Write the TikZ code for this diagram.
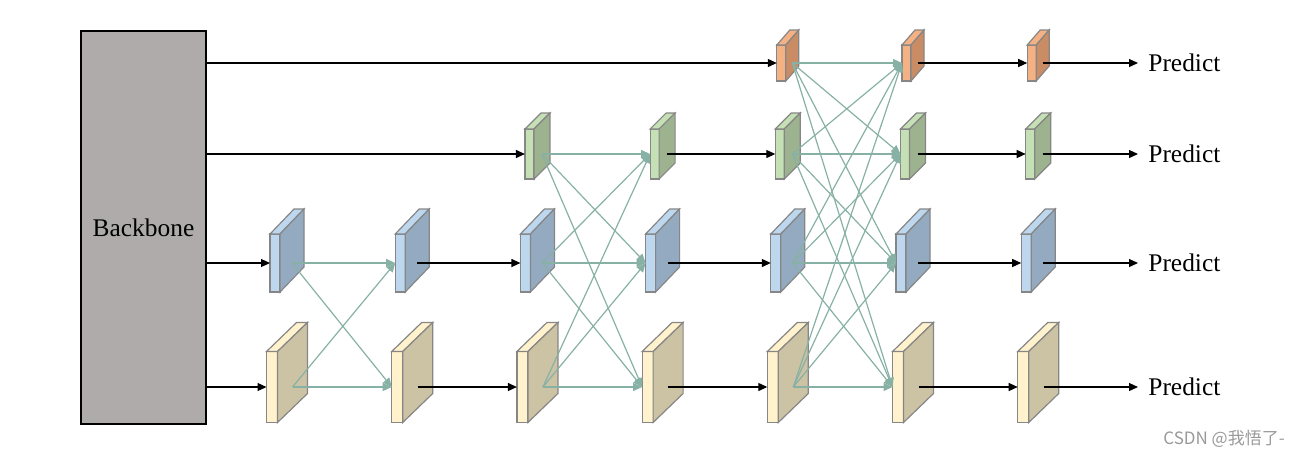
\documentclass[tikz,border=0pt]{standalone}
\usepackage{fontspec}
\setmainfont{Liberation Serif}
\newfontfamily\cjkfont{Noto Sans CJK SC}
\usepackage{xcolor}
\usetikzlibrary{arrows.meta, positioning}

\definecolor{bbgray}{HTML}{AFABAB}
\definecolor{edgegray}{HTML}{868686}
\definecolor{fuseteal}{HTML}{88B1A5}
\definecolor{otop}{HTML}{F4B183}
\definecolor{oside}{HTML}{C98C64}
\definecolor{gtop}{HTML}{C5E0B4}
\definecolor{gside}{HTML}{9DB28E}
\definecolor{btop}{HTML}{BDD7EE}
\definecolor{bside}{HTML}{94AAC0}
\definecolor{ytop}{HTML}{FFF2CC}
\definecolor{yside}{HTML}{CCC2A4}

\begin{document}
\begin{tikzpicture}[
		x=0.5pt, y=-0.5pt,
		% Defining node styles
		backbone/.style={rectangle, draw=black, fill=bbgray, line width=0.6pt, minimum width=62.5pt, minimum height=196.5pt, inner sep=0pt, font=\fontsize{12.7}{15}\selectfont},
		slab/.style={rectangle, draw=edgegray, line width=0.6pt, inner sep=0pt, outer sep=0pt},
		oface/.style={slab, fill=otop, minimum width=4.5pt, minimum height=18pt},
		gface/.style={slab, fill=gtop, minimum width=4.5pt, minimum height=25pt},
		bface/.style={slab, fill=btop, minimum width=5pt, minimum height=29pt},
		yface/.style={slab, fill=ytop, minimum width=5.5pt, minimum height=35.5pt},
		predict/.style={anchor=west, inner ysep=0pt, inner xsep=5pt, font=\fontsize{12.7}{15}\selectfont},
		connector/.style={-{Triangle[length=4.5pt, width=4pt]}, line width=0.6pt, draw=black},
		fuse/.style={-{Triangle[length=4.5pt, width=4pt]}, line width=0.6pt, draw=fuseteal}
	]
	\useasboundingbox (0,0) rectangle (1296,457);

	% Backbone block
	\node[backbone] (bb) at (143.5,227.5) {Backbone};

	% Feature slabs: level/line y/depth x/depth y/columns
	\foreach \lv/\ly/\dx/\dy/\cols in {o/63/13/15/{5,6,7}, g/154/16/16/{3,4,5,6,7}, b/263/24/25/{1,2,3,4,5,6,7}, y/387/30/29/{1,2,3,4,5,6,7}} {
		\foreach \col in \cols {
			\node[\lv face] (\lv\col) at ({287+(\col-1)*125.2-\dx/2},\ly) {};
			\draw[slab, fill=\lv top] (\lv\col.north west) -- ++(\dx,-\dy) -- ([shift={(\dx,-\dy)}]\lv\col.north east) -- (\lv\col.north east) -- cycle;
			\draw[slab, fill=\lv side] (\lv\col.north east) -- ([shift={(\dx,-\dy)}]\lv\col.north east) -- ([shift={(\dx,-\dy)}]\lv\col.south east) -- (\lv\col.south east) -- cycle;
			\path (\lv\col.east) ++(\dx/2,0) coordinate (\lv\col s);
		}
	}

	% Predict labels
	\node[predict] (po) at (1138,63) {Predict};
	\node[predict] (pg) at (1138,154) {Predict};
	\node[predict] (pb) at (1138,263) {Predict};
	\node[predict] (py) at (1138,387) {Predict};

	% Backbone outputs
	\draw[connector] (bb.east |- o5.west) -- (o5.west);
	\draw[connector] (bb.east |- g3.west) -- (g3.west);
	\draw[connector] (bb.east |- b1.west) -- (b1.west);
	\draw[connector] (bb.east |- y1.west) -- (y1.west);

	% Cross-level fusion
	\foreach \col/\nxt/\lvs in {1/2/{b,y}, 3/4/{g,b,y}, 5/6/{o,g,b,y}} {
		\foreach \p in \lvs {
			\foreach \q in \lvs {
				\draw[fuse] (\p\col s) -- (\q\nxt.west);
			}
		}
	}

	% Same-level connections
	\foreach \col/\nxt/\lvs in {2/3/{b,y}, 4/5/{g,b,y}, 6/7/{o,g,b,y}} {
		\foreach \p in \lvs {
			\draw[connector] (\p\col s) -- (\p\nxt.west);
		}
	}
	\foreach \p in {o,g,b,y} {
		\draw[connector] (\p7s) -- (p\p.west);
	}

	\node[font=\cjkfont\fontsize{8.5}{10}\selectfont, text=black!40] (mark) at (1224,439) {CSDN @我悟了-};
\end{tikzpicture}
\end{document}
